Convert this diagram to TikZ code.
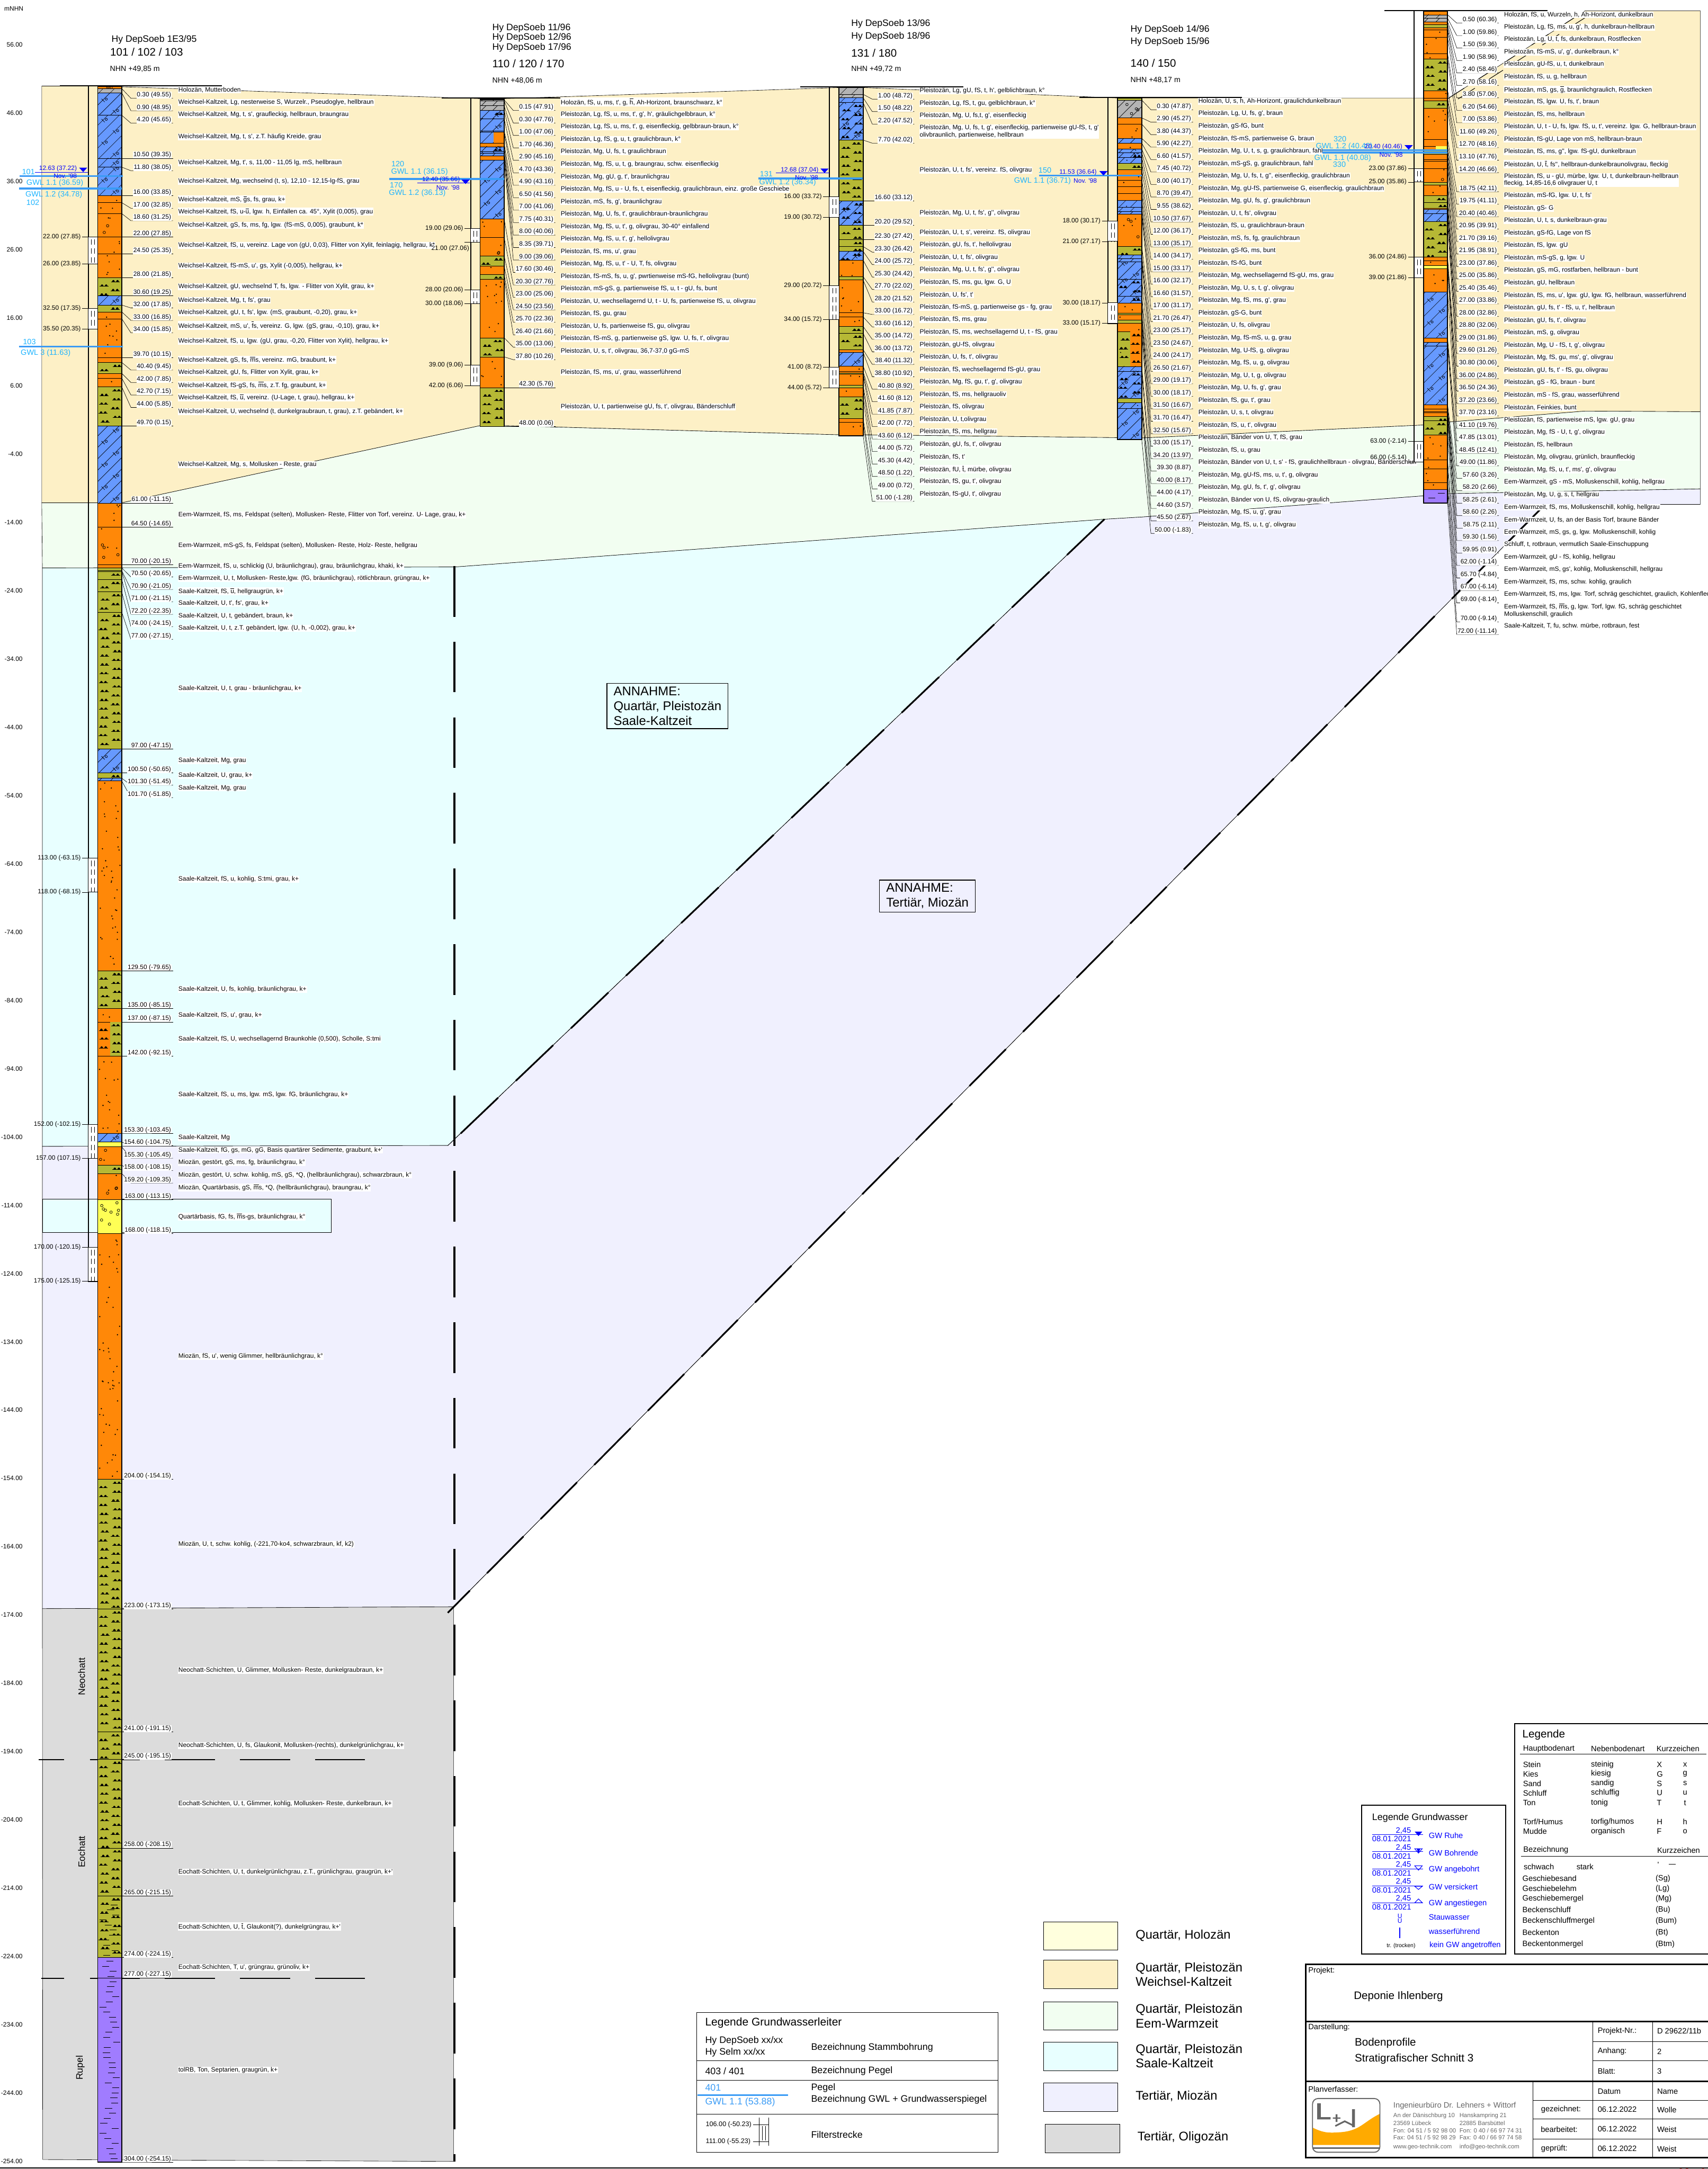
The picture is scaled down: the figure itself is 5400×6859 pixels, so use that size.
\documentclass[tikz,border=0pt]{standalone}
\usepackage{fontspec}
\newfontfamily\gfont{Liberation Sans}
\usetikzlibrary{positioning}
\definecolor{cOrange}{HTML}{FF8808}
\definecolor{cOlive}{HTML}{B6B835}
\definecolor{cBlue}{HTML}{6699FF}
\definecolor{cGrey}{HTML}{B4B4B4}
\definecolor{cYellow}{HTML}{FFFF55}
\definecolor{cPurple}{HTML}{A07CFF}
\definecolor{cHolo}{HTML}{FFFFDD}
\definecolor{cWeich}{HTML}{FDF0C6}
\definecolor{cEem}{HTML}{F2FEF1}
\definecolor{cSaale}{HTML}{E8FFFF}
\definecolor{cMio}{HTML}{F0F0FE}
\definecolor{cOligo}{HTML}{DCDCDC}
\definecolor{cGwl}{HTML}{1EB4FF}
\definecolor{cPegel}{HTML}{3A9BF5}
\definecolor{cLogo}{HTML}{FFAA00}
\definecolor{cLogoG}{HTML}{666666}
\newcommand{\fs}[2]{\gfont\fontsize{#1}{#2}\selectfont}
\newcommand{\ol}[1]{$\overline{\mbox{#1}}$}
\makeatletter
\newcommand{\testbreak}[1]{\in@{\\}{#1}\ifin@\gdef\extra{21}\else\gdef\extra{0}\fi}
\makeatother
\tikzstyle{thinl} = [line width=0.3pt, draw=black]
\tikzstyle{lead} = [line width=0.3pt, draw=black]
\tikzstyle{desc} = [anchor=west, fill=white, inner sep=0.4pt, align=left, font=\fs{5.7}{6.5}]
\tikzstyle{depth} = [anchor=base east, fill=white, inner sep=0.4pt, font=\fs{5.7}{6.5}]
\tikzstyle{plain} = [anchor=west, inner sep=0pt, align=left, font=\fs{5.7}{6.5}]
\tikzstyle{flab} = [anchor=east, inner sep=0pt, font=\fs{5.7}{6.5}]
\tikzstyle{gwl} = [anchor=west, inner sep=0pt, text=cGwl, font=\fs{6.9}{8}]
\tikzstyle{gwb} = [anchor=west, inner sep=0pt, text=blue, font=\fs{5.7}{6.5}]
\tikzstyle{head} = [anchor=west, inner sep=0pt, font=\fs{8.4}{9}]
\tikzstyle{headb} = [anchor=west, inner sep=0pt, font=\fs{9.8}{11}]
\tikzstyle{headc} = [anchor=west, inner sep=0pt, font=\fs{6.75}{8}]
\tikzstyle{leg} = [anchor=west, inner sep=0pt, font=\fs{7}{8}]
\tikzstyle{legb} = [anchor=west, inner sep=0pt, text=blue, font=\fs{7}{8}]
\tikzstyle{legg} = [anchor=west, inner sep=0pt, font=\fs{8.5}{10}]
\tikzstyle{legc} = [anchor=west, inner sep=0pt, align=left, font=\fs{11.3}{13}]
\tikzstyle{firm} = [anchor=west, inner sep=0pt, text=cLogoG, font=\fs{5.4}{6}]
\tikzstyle{big} = [anchor=west, inner sep=0pt, font=\fs{9.8}{11}]
\tikzstyle{assume} = [rectangle, draw=black, line width=0.6pt, anchor=north west, align=left, inner xsep=6pt, inner ysep=3pt, font=\fs{11.4}{13.4}]
\tikzstyle{bdash} = [line width=1.6pt, dash pattern=on 45.5pt off 22.5pt]
\tikzstyle{ddash} = [line width=1.5pt, dash pattern=on 46.5pt off 22pt]
\tikzstyle{peg} = [line width=1.7pt, draw=cPegel]

% one strip of a profile
\newcommand{\base}[4]{\filldraw[fill=#1,thinl] (#2,#3) rectangle (#2+76,#4);}
\newcommand{\spots}[6]{%
  \pgfmathtruncatemacro\nn{(#3-#2)/#4}%
  \ifnum\nn>0 \foreach \k in {1,...,\nn}{\fill ({#1+5+rnd*(#6-10)},{#2+3+rnd*(#3-#2-6)}) circle (#5);}\fi}
\newcommand{\rings}[5]{%
  \pgfmathtruncatemacro\nn{(#3-#2)/#4}%
  \ifnum\nn>0 \foreach \k in {1,...,\nn}{\draw[line width=0.35pt] ({#1+9+rnd*(#5-18)},{#2+6+rnd*(#3-#2-12)}) circle (4);}\fi}
\newcommand{\bump}[2]{\fill (#1,#2) .. controls (#1+1,#2-8) and (#1+8,#2-8) .. (#1+9,#2) -- cycle;}
\newcommand{\humps}[4]{%
  \pgfmathtruncatemacro\nn{(#3-#2)/14}%
  \ifnum\nn>0 \foreach \k in {1,...,\nn}{%
    \pgfmathsetmacro\hy{#2+\k*14-1}%
    \pgfmathsetmacro\hx{#1+3+mod(\k,2)*#4/2+rnd*(#4/2-31)}%
    \draw[line width=0.3pt] (\hx,\hy) -- ++(28,0);
    \bump{\hx+3}{\hy}\bump{\hx+16}{\hy}}\fi}
\newcommand{\clays}[3]{%
  \pgfmathtruncatemacro\nn{(#3-#2)/16}%
  \ifnum\nn>0 \foreach \k in {1,...,\nn}{\draw[line width=0.3pt] ({#1+5+rnd*44},{#2+\k*16-4}) -- ++(22,0);}\fi}
\newcommand{\hatch}[4]{%
  \begin{scope}
    \clip (#1,#2) rectangle (#1+76,#3);
    \pgfmathtruncatemacro\nn{(#3-#2+76)/36}%
    \foreach \k in {0,...,\nn}{%
      \pgfmathsetmacro\yk{#3+76-\k*36}%
      \draw[line width=0.3pt] (#1,\yk) -- ++(76,-76);
      \ifnum#4=1 \ifodd\k
        \draw[line width=0.35pt] (#1+12,\yk-20) -- (#1+22,\yk-10) (#1+27,\yk-19) circle (3.5);
        \draw[line width=0.35pt] (#1+48,\yk-56) -- (#1+58,\yk-46) (#1+63,\yk-55) circle (3.5);
      \fi\fi}
  \end{scope}}
\newcommand{\layo}[3]{\base{cOrange}{#1}{#2}{#3}}
\newcommand{\lays}[3]{\base{cOrange}{#1}{#2}{#3}\spots{#1}{#2}{#3}{15}{2.2}{76}}
\newcommand{\layg}[3]{\base{cOrange}{#1}{#2}{#3}\spots{#1}{#2}{#3}{30}{2.2}{76}\rings{#1}{#2}{#3}{26}{76}}
\newcommand{\layu}[3]{\base{cOlive}{#1}{#2}{#3}\humps{#1}{#2}{#3}{76}}
\newcommand{\layv}[3]{\base{cOlive}{#1}{#2}{#3}\humps{#1}{#2}{#3}{76}\clays{#1}{#2}{#3}}
\newcommand{\laym}[3]{\base{cBlue}{#1}{#2}{#3}\hatch{#1}{#2}{#3}{1}}
\newcommand{\layn}[3]{\base{cBlue}{#1}{#2}{#3}\hatch{#1}{#2}{#3}{1}\humps{#1}{#2}{#3}{76}}
\newcommand{\layl}[3]{\base{cBlue}{#1}{#2}{#3}\hatch{#1}{#2}{#3}{0}\spots{#1}{#2}{#3}{16}{1.8}{76}}
\newcommand{\layh}[3]{\base{cGrey}{#1}{#2}{#3}\hatch{#1}{#2}{#3}{0}}
\newcommand{\layx}[3]{\base{cGrey}{#1}{#2}{#3}\hatch{#1}{#2}{#3}{0}\rings{#1}{#2}{#3}{12}{76}}
\newcommand{\layy}[3]{\base{cYellow}{#1}{#2}{#3}\rings{#1}{#2}{#3}{11}{76}}
\newcommand{\layf}[3]{\base{cYellow}{#1}{#2}{#3}}
\newcommand{\layt}[3]{\base{cPurple}{#1}{#2}{#3}\clays{#1}{#2}{#3}}
\newcommand{\laya}[3]{\base{cOlive}{#1}{#2}{#3}\fill[cOrange] (#1+40,#2) rectangle (#1+76,#3);\humps{#1}{#2}{#3}{76}\spots{#1}{#2}{#3}{50}{1.8}{76}}
\newcommand{\layb}[3]{\base{cOrange}{#1}{#2}{#3}\fill[cOlive] (#1+40,#2) rectangle (#1+76,#3);\humps{#1}{#2}{#3}{76}}
\newcommand{\layq}[3]{\base{cBlue}{#1}{#2}{#3}\hatch{#1}{#2}{#3}{0}\fill[cOrange] (#1+42,#2) rectangle (#1+76,#3);}
\newcommand{\layr}[3]{\base{cOrange}{#1}{#2}{#3}\fill[cYellow] (#1+38,#2) rectangle (#1+76,#3);}

% name, left edge, NHN of the top, strata
\newcommand{\profile}[4]{%
  \pgfmathsetmacro\xL{#2}\pgfmathsetmacro\xR{#2+76}%
  \pgfmathsetmacro\xK{#2+105}\pgfmathsetmacro\xE{#2+238}%
  \pgfmathsetmacro\xT{#2+234}\pgfmathsetmacro\xD{#2+253}%
  \pgfmathsetmacro\ytop{141+(56-#3)*21.59}%
  \xdef\dprev{0}\xdef\extraprev{0}%
  \pgfmathsetmacro\tmp{\ytop-2.4}\xdef\ylabprev{\tmp}%
  \pgfmathsetmacro\tmp{\ytop-29}\xdef\ytxtprev{\tmp}%
  \foreach \dep/\elev/\pat/\txt [count=\i] in {#4}{%
    \expandafter\testbreak\expandafter{\txt}%
    \pgfmathsetmacro\ybot{\ytop+\dep*21.59}%
    \pgfmathsetmacro\yfirst{\ytop+\dprev*21.59}%
    \csname lay\pat\endcsname{\xL}{\yfirst}{\ybot}%
    \pgfmathsetmacro\ylab{max(\ybot,\ylabprev+39.4+\extra)}%
    \pgfmathsetmacro\ytxt{max((\yfirst+\ybot)/2,\ytxtprev+39.4+(\extra+\extraprev)/2,(\ytxtprev+\ybot)/2)}%
    \coordinate (#1b\i) at (\xR,\ybot);
    \coordinate (#1k\i) at (\xK,\ylab);
    \coordinate (#1e\i) at (\xE,\ylab);
    \draw[lead] (#1b\i) -- (#1k\i) -- (#1e\i);
    \node (#1d\i) [depth] at (\xT,\ylab-5) {\dep{} (\elev)};
    \node (#1t\i) [desc] at (\xD,\ytxt) {\txt};
    \xdef\dprev{\dep}\xdef\ylabprev{\ylab}\xdef\ytxtprev{\ytxt}\xdef\extraprev{\extra}%
  }%
  \draw[line width=0.9pt] (\xL,\ytop) rectangle (\xR,{\ytop+\dprev*21.59});
}
% name, tube left edge, tube width, NHN of the top, end of tube, filters
\newcommand{\pegel}[6]{%
  \pgfmathsetmacro\ytop{141+(56-#4)*21.59}%
  \draw[line width=0.9pt] (#2,\ytop-4) -- (#2,{\ytop+#5*21.59}) -- (#2+#3,{\ytop+#5*21.59});
  \foreach \da/\ea/\db/\eb/\nudgex/\nudgey [count=\i] in {#6}{%
    \pgfmathsetmacro\ya{\ytop+\da*21.59}\pgfmathsetmacro\yb{\ytop+\db*21.59}%
    \filldraw[fill=white,line width=0.5pt] (#2,\ya) rectangle (#2+#3,\yb);
    \draw[line width=0.4pt,dash pattern=on 5pt off 3pt] (#2+#3/3,\ya+8) -- (#2+#3/3,\yb) (#2+2*#3/3,\ya+8) -- (#2+2*#3/3,\yb);
    \draw[lead] (#2-19,\ya) -- (#2,\ya) (#2-19,\yb) -- (#2,\yb);
    \node (#1fa\i) [flab] at (#2-23,\ya) {\da{} (\ea)};
    \node (#1fb\i) [flab] at (#2-23+\nudgex,\yb+\nudgey) {\db{} (\eb)};
  }%
}
\newcommand{\gwtri}[2]{\fill[blue] (#1-13,#2-7) -- (#1+13,#2-7) -- (#1,#2+7) -- cycle;}

\begin{document}
\begin{tikzpicture}[x=0.01cm,y=-0.01cm]
\useasboundingbox (0,0) rectangle (5400,6859);
\pgfmathsetseed{41}

% formations
\filldraw[fill=cWeich,thinl] (132,272) -- (309,272) -- (1518,312) -- (1594,312) -- (2653,277) -- (2728,277) -- (3534,310) -- (4501,310) -- (4576,313) -- (5012,34) -- (5376,34) -- (5376,1302) -- (5012,1300) -- (4576,1335) -- (4501,1344) -- (3610,1385) -- (3534,1384) -- (2728,1375) -- (2653,1375) -- (1594,1346) -- (1518,1346) -- (385,1590) -- (132,1590) -- cycle;
\filldraw[fill=cEem,thinl] (132,1590) -- (385,1590) -- (1518,1346) -- (1594,1346) -- (2653,1375) -- (2728,1375) -- (3534,1384) -- (3610,1385) -- (4501,1344) -- (4576,1335) -- (5012,1300) -- (5376,1302) -- (5376,1546) -- (4576,1561) -- (4501,1568) -- (3610,1635) -- (3492,1642) -- (1438,1793) -- (134,1796) -- cycle;
\filldraw[fill=cMio,thinl] (134,3625) -- (1416,3622) -- (3492,1642) -- (3610,1635) -- (4501,1568) -- (4576,1561) -- (5376,1546) -- (5376,1595) -- (4875,1595) -- (4875,1606) -- (1434,5081) -- (134,5087) -- cycle;
\filldraw[fill=cSaale,thinl] (134,1796) -- (1438,1793) -- (3492,1642) -- (1416,3622) -- (134,3625) -- cycle;
\filldraw[fill=cSaale,thinl] (134,3792) rectangle (1047,3898);
\filldraw[fill=cOligo,thinl] (134,5087) -- (1434,5081) -- (1434,6835) -- (135,6829) -- cycle;

\draw[bdash] (1437,1790) -- (1437,6835);
\draw[ddash] (3492,1642) -- (1416,3623);
\draw[ddash] (4875,1606) -- (1416,5100);
\draw[line width=0.25pt] (4875,1606) -- (1416,5100) (3492,1642) -- (1416,3623);
\draw[line width=0.5pt,dash pattern=on 18pt off 12pt] (4576,313) -- (5012,34) (4610,313) -- (5046,34);
\draw[line width=0.8pt] (122,5564) -- (203,5564);
\draw[line width=0.8pt,dash pattern=on 45pt off 22.5pt] (284,5564) -- (1155,5564);
\draw[line width=0.8pt] (130,6256) -- (203,6256);
\draw[line width=0.8pt,dash pattern=on 45pt off 22.5pt] (284,6256) -- (1155,6256);

\draw[line width=0.9pt] (189,271) -- (702,271) (1396,310) -- (1912,310) (2530,274) -- (3046,274) (3412,308) -- (3926,308) (4378,34) -- (4893,34);

% scale
\node (axis) [plain] at (13,27) {mNHN};
\foreach \h [count=\i] in {56,46,...,-254}{
  \pgfmathsetmacro\yh{141+(56-\h)*21.59}
  \node (ax\i) [flab] at (72,\yh) {\h.00};
}

% heads
\node (h1a) [head] at (352,125) {Hy DepSoeb 1E3/95};
\node (h1b) [headb] at (348,165) {101 / 102 / 103};
\node (h1c) [headc] at (347,218) {NHN +49,85 m};
\node (h2a) [head] at (1556,88) {Hy DepSoeb 11/96};
\node (h2b) [head] at (1556,118) {Hy DepSoeb 12/96};
\node (h2c) [head] at (1556,151) {Hy DepSoeb 17/96};
\node (h2d) [headb] at (1556,202) {110 / 120 / 170};
\node (h2e) [headc] at (1556,256) {NHN +48,06 m};
\node (h3a) [head] at (2691,75) {Hy DepSoeb 13/96};
\node (h3b) [head] at (2691,115) {Hy DepSoeb 18/96};
\node (h3c) [headb] at (2691,167) {131 / 180};
\node (h3d) [headc] at (2691,219) {NHN +49,72 m};
\node (h4a) [head] at (3574,94) {Hy DepSoeb 14/96};
\node (h4b) [head] at (3574,133) {Hy DepSoeb 15/96};
\node (h4c) [headb] at (3574,199) {140 / 150};
\node (h4d) [headc] at (3574,254) {NHN +48,17 m};

% profiles
\profile{a}{309}{49.85}{
0.30/49.55/o/{Holozän, Mutterboden},
0.90/48.95/h/{Weichsel-Kaltzeit, Lg, nesterweise S, Wurzelr., Pseudoglye, hellbraun},
4.20/45.65/m/{Weichsel-Kaltzeit, Mg, t, s', graufleckig, hellbraun, braungrau},
10.50/39.35/m/{Weichsel-Kaltzeit, Mg, t, s', z.T. häufig Kreide, grau},
11.80/38.05/m/{Weichsel-Kaltzeit, Mg, t', s, 11,00 - 11,05 lg, mS, hellbraun},
16.00/33.85/m/{Weichsel-Kaltzeit, Mg, wechselnd (t, s), 12,10 - 12,15-lg-fS, grau},
17.00/32.85/s/{Weichsel-Kaltzeit, mS, \ol{g}s, fs, grau, k+},
18.60/31.25/s/{Weichsel-Kaltzeit, fS, u-\ol{u}, lgw. h, Einfallen ca. 45°, Xylit (0,005), grau},
22.00/27.85/g/{Weichsel-Kaltzeit, gS, fs, ms, fg, lgw. (fS-mS, 0,005), graubunt, k*},
24.50/25.35/s/{Weichsel-Kaltzeit, fS, u, vereinz. Lage von (gU, 0,03), Flitter von Xylit, feinlagig, hellgrau, k*},
28.00/21.85/s/{Weichsel-Kaltzeit, fS-mS, u', gs, Xylit (-0,005), hellgrau, k+},
30.60/19.25/u/{Weichsel-Kaltzeit, gU, wechselnd T, fs, lgw. - Flitter von Xylit, grau, k+},
32.00/17.85/m/{Weichsel-Kaltzeit, Mg, t, fs', grau},
33.00/16.85/u/{Weichsel-Kaltzeit, gU, t, fs', lgw. (mS, graubunt, -0,20), grau, k+},
34.00/15.85/s/{Weichsel-Kaltzeit, mS, u', \ol{f}s, vereinz. G, lgw. (gS, grau, -0,10), grau, k+},
39.70/10.15/s/{Weichsel-Kaltzeit, fS, u, lgw. (gU, grau, -0,20, Flitter von Xylit), hellgrau, k+},
40.40/9.45/g/{Weichsel-Kaltzeit, gS, fs, \ol{m}s, vereinz. mG, braubunt, k+},
42.00/7.85/u/{Weichsel-Kaltzeit, gU, fs, Flitter von Xylit, grau, k+},
42.70/7.15/g/{Weichsel-Kaltzeit, fS-gS, fs, \ol{m}s, z.T. fg, graubunt, k+},
44.00/5.85/s/{Weichsel-Kaltzeit, fS, \ol{u}, vereinz. (U-Lage, t, grau), hellgrau, k+},
49.70/0.15/u/{Weichsel-Kaltzeit, U, wechselnd (t, dunkelgraubraun, t, grau), z.T. gebändert, k+},
61.00/-11.15/m/{Weichsel-Kaltzeit, Mg, s, Mollusken - Reste, grau},
64.50/-14.65/s/{Eem-Warmzeit, fS, ms, Feldspat (selten), Mollusken- Reste, Flitter von Torf, vereinz. U- Lage, grau, k+},
70.00/-20.15/g/{Eem-Warmzeit, mS-gS, fs, Feldspat (selten), Mollusken- Reste, Holz- Reste, hellgrau},
70.50/-20.65/s/{Eem-Warmzeit, fS, u, schlickig (U, bräunlichgrau), grau, bräunlichgrau, khaki, k+},
70.90/-21.05/u/{Eem-Warmzeit, U, t, Mollusken- Reste,lgw. (fG, bräunlichgrau), rötlichbraun, grüngrau, k+},
71.00/-21.15/u/{Saale-Kaltzeit, fS, \ol{u}, hellgraugrün, k+},
72.20/-22.35/u/{Saale-Kaltzeit, U, t', fs', grau, k+},
74.00/-24.15/u/{Saale-Kaltzeit, U, t, gebändert, braun, k+},
77.00/-27.15/u/{Saale-Kaltzeit, U, t, z.T. gebändert, lgw. (U, h, -0,002), grau, k+},
97.00/-47.15/u/{Saale-Kaltzeit, U, t, grau - bräunlichgrau, k+},
100.50/-50.65/m/{Saale-Kaltzeit, Mg, grau},
101.30/-51.45/u/{Saale-Kaltzeit, U, grau, k+},
101.70/-51.85/l/{Saale-Kaltzeit, Mg, grau},
129.50/-79.65/s/{Saale-Kaltzeit, fS, u, kohlig, S:tmi, grau, k+},
135.00/-85.15/u/{Saale-Kaltzeit, U, fs, kohlig, bräunlichgrau, k+},
137.00/-87.15/s/{Saale-Kaltzeit, fS, u', grau, k+},
142.00/-92.15/b/{Saale-Kaltzeit, fS, U, wechsellagernd Braunkohle (0,500), Scholle, S:tmi},
153.30/-103.45/s/{Saale-Kaltzeit, fS, u, ms, lgw. mS, lgw. fG, bräunlichgrau, k+},
154.60/-104.75/m/{Saale-Kaltzeit, Mg},
155.30/-105.45/f/{Saale-Kaltzeit, fG, gs, mG, gG, Basis quartärer Sedimente, graubunt, k+'},
158.00/-108.15/g/{Miozän, gestört, gS, ms, fg, bräunlichgrau, k°},
159.20/-109.35/u/{Miozän, gestört, U, schw. kohlig, mS, gS, *Q, (hellbräunlichgrau), schwarzbraun, k°},
163.00/-113.15/g/{Miozän, Quartärbasis, gS, \ol{m}s, *Q, (hellbräunlichgrau), braungrau, k°},
168.00/-118.15/y/{Quartärbasis, fG, fs, \ol{m}s-gs, bräunlichgrau, k°},
204.00/-154.15/s/{Miozän, fS, u', wenig Glimmer, hellbräunlichgrau, k°},
223.00/-173.15/u/{Miozän, U, t, schw. kohlig, (-221,70-ko4, schwarzbraun, kf, k2)},
241.00/-191.15/u/{Neochatt-Schichten, U, Glimmer, Mollusken- Reste, dunkelgraubraun, k+},
245.00/-195.15/u/{Neochatt-Schichten, U, fs, Glaukonit, Mollusken-(rechts), dunkelgrünlichgrau, k+},
258.00/-208.15/u/{Eochatt-Schichten, U, t, Glimmer, kohlig, Mollusken- Reste, dunkelbraun, k+},
265.00/-215.15/u/{Eochatt-Schichten, U, t, dunkelgrünlichgrau, z.T., grünlichgrau, graugrün, k+'},
274.00/-224.15/v/{Eochatt-Schichten, U, \ol{t}, Glaukonit(?), dunkelgrüngrau, k+'},
277.00/-227.15/t/{Eochatt-Schichten, T, u', grüngrau, grünoliv, k+},
304.00/-254.15/t/{tolRB, Ton, Septarien, graugrün, k+}}

\profile{b}{1518}{48.06}{
0.15/47.91/h/{Holozän, fS, u, ms, t', g, \ol{h}, Ah-Horizont, braunschwarz, k°},
0.30/47.76/h/{Pleistozän, Lg, fS, u, ms, t', g', h', gräulichgelbbraun, k°},
1.00/47.06/h/{Pleistozän, Lg, fS, u, ms, t', g, eisenfleckig, gelbbraun-braun, k°},
1.70/46.36/h/{Pleistozän, Lg, fS, g, u, t, graulichbraun, k°},
2.90/45.16/n/{Pleistozän, Mg, U, fs, t, graulichbraun},
4.70/43.36/m/{Pleistozän, Mg, fS, u, t, g, braungrau, schw. eisenfleckig},
4.90/43.16/l/{Pleistozän, Mg, gU, g, t', braunlichgrau},
6.50/41.56/q/{Pleistozän, Mg, fS, u - U, fs, t, eisenfleckig, graulichbraun, einz. große Geschiebe},
7.00/41.06/s/{Pleistozän, mS, fs, g', braunlichgrau},
7.75/40.31/n/{Pleistozän, Mg, U, fs, t', graulichbraun-braunlichgrau},
8.00/40.06/l/{Pleistozän, Mg, fS, u, t', g, olivgrau, 30-40° einfallend},
8.35/39.71/l/{Pleistozän, Mg, fS, u, t', g', hellolivgrau},
9.00/39.06/s/{Pleistozän, fS, ms, u', grau},
17.60/30.46/m/{Pleistozän, Mg, fS, u, t' - U, T, fs, olivgrau},
20.30/27.76/s/{Pleistozän, fS-mS, fs, u, g', pwrtienweise mS-fG, hellolivgrau (bunt)},
23.00/25.06/g/{Pleistozän, mS-gS, g, partienweise fS, u, t - gU, fs, bunt},
24.50/23.56/u/{Pleistozän, U, wechsellagernd U, t - U, fs, partienweise fS, u, olivgrau},
25.70/22.36/s/{Pleistozän, fS, gu, grau},
26.40/21.66/u/{Pleistozän, U, fs, partienweise fS, gu, olivgrau},
35.00/13.06/s/{Pleistozän, fS-mS, g, partienweise gS, lgw. U, fs, t', olivgrau},
37.80/10.26/u/{Pleistozän, U, s, t', olivgrau, 36,7-37,0 gG-mS},
42.30/5.76/s/{Pleistozän, fS, ms, u', grau, wasserführend},
48.00/0.06/u/{Pleistozän, U, t, partienweise gU, fs, t', olivgrau, Bänderschluff}}

\profile{c}{2653}{49.72}{
1.00/48.72/h/{Pleistozän, Lg, gU, fS, t, h', gelblichbraun, k°},
1.50/48.22/h/{Pleistozän, Lg, fS, t, gu, gelblichbraun, k°},
2.20/47.52/l/{Pleistozän, Mg, U, fs,t, g', eisenfleckig},
7.70/42.02/n/{Pleistozän, Mg, U, fs, t, g', eisenfleckig, partienweise gU-fS, t, g'\\olivbraunlich, partienweise, hellbraun},
16.60/33.12/u/{Pleistozän, U, t, fs', vereinz. fS, olivgrau},
20.20/29.52/n/{Pleistozän, Mg, U, t, fs', g'', olivgrau},
22.30/27.42/u/{Pleistozän, U, t, s', vereinz. fS, olivgrau},
23.30/26.42/u/{Pleistozän, gU, fs, t', hellolivgrau},
24.00/25.72/u/{Pleistozän, U, t, fs', olivgrau},
25.30/24.42/n/{Pleistozän, Mg, U, t, fs', g'', olivgrau},
27.70/22.02/s/{Pleistozän, fS, ms, gu, lgw. G, U},
28.20/21.52/u/{Pleistozän, U, fs', t'},
33.00/16.72/s/{Pleistozän, fS-mS, g, partienweise gs - fg, grau},
33.60/16.12/s/{Pleistozän, fS, ms, grau},
35.00/14.72/s/{Pleistozän, fS, ms, wechsellagernd U, t - fS, grau},
36.00/13.72/u/{Pleistozän, gU-fS, olivgrau},
38.40/11.32/u/{Pleistozän, U, fs, t', olivgrau},
38.80/10.92/s/{Pleistozän, fS, wechsellagernd fS-gU, grau},
40.80/8.92/m/{Pleistozän, Mg, fS, gu, t', g', olivgrau},
41.60/8.12/s/{Pleistozän, fS, ms, hellgrauoliv},
41.85/7.87/s/{Pleistozän, fS, olivgrau},
42.00/7.72/u/{Pleistozän, U, t,olivgrau},
43.60/6.12/s/{Pleistozän, fS, ms, hellgrau},
44.00/5.72/u/{Pleistozän, gU, fs, t', olivgrau},
45.30/4.42/s/{Pleistozän, fS, t'},
48.50/1.22/u/{Pleistozän, fU, \ol{t}, mürbe, olivgrau},
49.00/0.72/s/{Pleistozän, fS, gu, t', olivgrau},
51.00/-1.28/s/{Pleistozän, fS-gU, t', olivgrau}}

\profile{d}{3534}{48.17}{
0.30/47.87/u/{Holozän, U, s, h, Ah-Horizont, graulichdunkelbraun},
2.90/45.27/x/{Pleistozän, Lg, U, fs, g', braun},
3.80/44.37/g/{Pleistozän, gS-fG, bunt},
5.90/42.27/s/{Pleistozän, fS-mS, partienweise G, braun},
6.60/41.57/l/{Pleistozän, Mg, U, t, s, g, graulichbraun, fahl},
7.45/40.72/s/{Pleistozän, mS-gS, g, graulichbraun, fahl},
8.00/40.17/n/{Pleistozän, Mg, U, fs, t, g'', eisenfleckig, graulichbraun},
8.70/39.47/n/{Pleistozän, Mg, gU-fS, partienweise G, eisenfleckig, graulichbraun},
9.55/38.62/l/{Pleistozän, Mg, gU, fs, g', graulichbraun},
10.50/37.67/u/{Pleistozän, U, t, fs', olivgrau},
12.00/36.17/s/{Pleistozän, fS, u, graulichbraun-braun},
13.00/35.17/s/{Pleistozän, mS, fs, fg, graulichbraun},
14.00/34.17/g/{Pleistozän, gS-fG, ms, bunt},
15.00/33.17/g/{Pleistozän, fS-fG, bunt},
16.00/32.17/l/{Pleistozän, Mg, wechsellagernd fS-gU, ms, grau},
16.60/31.57/l/{Pleistozän, Mg, U, s, t, g', olivgrau},
17.00/31.17/l/{Pleistozän, Mg, fS, ms, g', grau},
21.70/26.47/g/{Pleistozän, gS-G, bunt},
23.00/25.17/u/{Pleistozän, U, fs, olivgrau},
23.50/24.67/l/{Pleistozän, Mg, fS-mS, u, g, grau},
24.00/24.17/l/{Pleistozän, Mg, U-fS, g, olivgrau},
26.50/21.67/m/{Pleistozän, Mg, fS, u, g, olivgrau},
29.00/19.17/n/{Pleistozän, Mg, U, t, g, olivgrau},
30.00/18.17/n/{Pleistozän, Mg, U, fs, g', grau},
31.50/16.67/s/{Pleistozän, fS, gu, t', grau},
31.70/16.47/u/{Pleistozän, U, s, t, olivgrau},
32.50/15.67/s/{Pleistozän, fS, u, t', olivgrau},
33.00/15.17/u/{Pleistozän, Bänder von U, T, fS, grau},
34.20/13.97/s/{Pleistozän, fS, u, grau},
39.30/8.87/a/{Pleistozän, Bänder von U, t, s' - fS, graulichhellbraun - olivgrau, Bänderschluff},
40.00/8.17/l/{Pleistozän, Mg, gU-fS, ms, u, t', g, olivgrau},
44.00/4.17/n/{Pleistozän, Mg, gU, fs, t', g', olivgrau},
44.60/3.57/u/{Pleistozän, Bänder von U, fS, olivgrau-graulich},
45.50/2.67/l/{Pleistozän, Mg, fS, u, g', grau},
50.00/-1.83/m/{Pleistozän, Mg, fS, u, t, g', olivgrau}}

\profile{e}{4501}{60.86}{
0.50/60.36/s/{Holozän, fS, u, Wurzeln, h, Ah-Horizont, dunkelbraun},
1.00/59.86/h/{Pleistozän, Lg, fS, ms, u, g', h, dunkelbraun-hellbraun},
1.50/59.36/h/{Pleistozän, Lg, U, t, fs, dunkelbraun, Rostflecken},
1.90/58.96/s/{Pleistozän, fS-mS, u', g', dunkelbraun, k°},
2.40/58.46/u/{Pleistozän, gU-fS, u, t, dunkelbraun},
2.70/58.16/s/{Pleistozän, fS, u, g, hellbraun},
3.80/57.06/s/{Pleistozän, mS, gs, \ol{g}, braunlichgraulich, Rostflecken},
6.20/54.66/s/{Pleistozän, fS, lgw. U, fs, t', braun},
7.00/53.86/s/{Pleistozän, fS, ms, hellbraun},
11.60/49.26/u/{Pleistozän, U, t - U, fs, lgw. fS, u, t', vereinz. lgw. G, hellbraun-braun},
12.70/48.16/s/{Pleistozän, fS-gU, Lage von mS, hellbraun-braun},
13.10/47.76/s/{Pleistozän, fS, ms, g'', lgw. fS-gU, dunkelbraun},
14.20/46.66/u/{Pleistozän, U, \ol{t}, fs'', hellbraun-dunkelbraunolivgrau, fleckig},
18.75/42.11/s/{Pleistozän, fS, u - gU, mürbe, lgw. U, t, dunkelbraun-hellbraun\\fleckig, 14,85-16,6 olivgrauer U, t},
19.75/41.11/g/{Pleistozän, mS-fG, lgw. U, t, fs'},
20.40/40.46/r/{Pleistozän, gS- G},
20.95/39.91/u/{Pleistozän, U, t, s, dunkelbraun-grau},
21.70/39.16/g/{Pleistozän, gS-fG, Lage von fS},
21.95/38.91/s/{Pleistozän, fS, lgw. gU},
23.00/37.86/g/{Pleistozän, mS-gS, g, lgw. U},
25.00/35.86/g/{Pleistozän, gS, mG, rostfarben, hellbraun - bunt},
25.40/35.46/u/{Pleistozän, gU, hellbraun},
27.00/33.86/s/{Pleistozän, fS, ms, u', lgw. gU, lgw. fG, hellbraun, wasserführend},
28.00/32.86/u/{Pleistozän, gU, fs, t' - fS, u, t', hellbraun},
28.80/32.06/u/{Pleistozän, gU, fs, t', olivgrau},
29.00/31.86/s/{Pleistozän, mS, g, olivgrau},
29.60/31.26/l/{Pleistozän, Mg, U - fS, t, g', olivgrau},
30.80/30.06/l/{Pleistozän, Mg, fS, gu, ms', g', olivgrau},
36.00/24.86/u/{Pleistozän, gU, fs, t' - fS, gu, olivgrau},
36.50/24.36/g/{Pleistozän, gS - fG, braun - bunt},
37.20/23.66/s/{Pleistozän, mS - fS, grau, wasserführend},
37.70/23.16/f/{Pleistozän, Feinkies, bunt},
41.10/19.76/s/{Pleistozän, fS, partienweise mS, lgw. gU, grau},
47.85/13.01/m/{Pleistozän, Mg, fS - U, t, g', olivgrau},
48.45/12.41/s/{Pleistozän, fS, hellbraun},
49.00/11.86/l/{Pleistozän, Mg, olivgrau, grünlich, braunfleckig},
57.60/3.26/m/{Pleistozän, Mg, fS, u, t', ms', g', olivgrau},
58.20/2.66/s/{Eem-Warmzeit, gS - mS, Molluskenschill, kohlig, hellgrau},
58.25/2.61/o/{Pleistozän, Mg, U, g, s, t, hellgrau},
58.60/2.26/o/{Eem-Warmzeit, fS, ms, Molluskenschill, kohlig, hellgrau},
58.75/2.11/o/{Eem-Warmzeit, U, fs, an der Basis Torf, braune Bänder},
59.30/1.56/s/{Eem-Warmzeit, mS, gs, g, lgw. Molluskenschill, kohlig},
59.95/0.91/u/{Schluff, t, rotbraun, vermutlich Saale-Einschuppung},
62.00/-1.14/u/{Eem-Warmzeit, gU - fS, kohlig, hellgrau},
65.70/-4.84/s/{Eem-Warmzeit, mS, gs', kohlig, Molluskenschill, hellgrau},
67.00/-6.14/s/{Eem-Warmzeit, fS, ms, schw. kohlig, graulich},
69.00/-8.14/s/{Eem-Warmzeit, fS, ms, lgw. Torf, schräg geschichtet, graulich, Kohlenflecken},
70.00/-9.14/s/{Eem-Warmzeit, fS, \ol{m}s, g, lgw. Torf, lgw. fG, schräg geschichtet\\Molluskenschill, graulich},
72.00/-11.14/t/{Saale-Kaltzeit, T, fu, schw. mürbe, rotbraun, fest}}

\node (mu) [anchor=center,inner sep=0pt,font=\fs{4.5}{5}] at (346,276) {Mu};

% tubes
\pegel{pa}{279}{30}{49.85}{175.00}{22.00/27.85/26.00/23.85/0/0,32.50/17.35/35.50/20.35/0/0,113.00/-63.15/118.00/-68.15/0/0,152.00/-102.15/157.00/107.15/0/0,170.00/-120.15/175.00/-125.15/0/0}
\pegel{pb}{1488}{30}{48.06}{42.00}{19.00/29.06/21.00/27.06/19/20,28.00/20.06/30.00/18.06/0/0,39.00/9.06/42.00/6.06/0/0}
\pegel{pc}{2622}{31}{49.72}{44.00}{16.00/33.72/19.00/30.72/0/0,29.00/20.72/34.00/15.72/0/0,41.00/8.72/44.00/5.72/0/0}
\pegel{pd}{3503}{31}{48.17}{33.00}{18.00/30.17/21.00/27.17/0/0,30.00/18.17/33.00/15.17/0/0}
\pegel{pe}{4471}{30}{60.86}{66.00}{23.00/37.86/25.00/35.86/0/0,36.00/24.86/39.00/21.86/0/0,63.00/-2.14/66.00/-5.14/0/-14}

% groundwater
\draw[peg] (62,557) -- (388,557) (61,596) -- (385,596) (60,1096) -- (388,1096);
\draw[peg] (1230,566) -- (1594,566) (2398,564) -- (2728,564) (3285,555) -- (3611,555) (4181,475) -- (4576,475) (4181,482) -- (4576,482);
\node (g101) [gwl] at (69,543) {101};
\node (g11a) [gwl] at (83,579) {GWL 1.1 (36.59)};
\node (g12a) [gwl] at (80,616) {GWL 1.2 (34.78)};
\node (g102) [gwl] at (83,640) {102};
\node (g103) [gwl] at (72,1081) {103};
\node (g3a) [gwl] at (65,1116) {GWL 3 (11.63)};
\node (g120) [gwl] at (1237,518) {120};
\node (g11b) [gwl] at (1236,544) {GWL 1.1 (36.15)};
\node (g170) [gwl] at (1232,585) {170};
\node (g12b) [gwl] at (1229,611) {GWL 1.2 (36.13)};
\node (g131) [gwl] at (2402,550) {131};
\node (g12c) [gwl] at (2400,578) {GWL 1.2 (36.34)};
\node (g150) [gwl] at (3283,538) {150};
\node (g11d) [gwl] at (3206,572) {GWL 1.1 (36.71)};
\node (g320) [gwl] at (4216,439) {320};
\node (g12e) [gwl] at (4160,464) {GWL 1.2 (40.40)};
\node (g11e) [gwl] at (4155,500) {GWL 1.1 (40.08)};
\node (g330) [gwl] at (4214,520) {330};

\draw[blue,line width=0.3pt] (110,544) -- (278,544) (1319,579) -- (1485,579) (2453,547) -- (2622,547);
\gwtri{263}{537}\gwtri{1472}{575}\gwtri{2607}{540}\gwtri{3489}{548}\gwtri{4454}{466}
\node (b1a) [gwb] at (123,533) {12.63 (37.22)};
\node (b1b) [gwb] at (169,557) {Nov. '98};
\node (b2a) [gwb] at (1334,568) {12.40 (35.66)};
\node (b2b) [gwb] at (1379,593) {Nov. '98};
\node (b3a) [gwb] at (2468,538) {12.68 (37.04)};
\node (b3b) [gwb] at (2513,562) {Nov. '98};
\node (b4a) [gwb] at (3349,545) {11.53 (36.64)};
\node (b4b) [gwb] at (3394,571) {Nov. '98};
\node (b5a) [gwb] at (4314,464) {20.40 (40.46)};
\node (b5b) [gwb] at (4361,489) {Nov. '98};

% stages
\node (neo) [inner sep=0pt,rotate=90,font=\fs{8.4}{9}] at (258,5302) {Neochatt};
\node (eoc) [inner sep=0pt,rotate=90,font=\fs{8.4}{9}] at (258,5856) {Eochatt};
\node (rup) [inner sep=0pt,rotate=90,font=\fs{8.4}{9}] at (254,6539) {Rupel};

\node (annQ) [assume] at (1918,2160) {ANNAHME:\\Quartär, Pleistozän\\Saale-Kaltzeit};
\node (annT) [assume] at (2780,2782) {ANNAHME:\\Tertiär, Miozän};

% colours
\foreach \cc/\ya/\xa in {cHolo/6077/3299,cWeich/6198/3299,cEem/6330/3299,cSaale/6458/3299,cMio/6587/3299,cOligo/6718/3305}
  \filldraw[fill=\cc,line width=0.4pt] (\xa,\ya) rectangle (\xa+235,\ya+90);
\node (c1) [legc] at (3590,6121) {Quartär, Holozän};
\node (c2) [legc] at (3590,6243) {Quartär, Pleistozän\\Weichsel-Kaltzeit};
\node (c3) [legc] at (3590,6375) {Quartär, Pleistozän\\Eem-Warmzeit};
\node (c4) [legc] at (3590,6502) {Quartär, Pleistozän\\Saale-Kaltzeit};
\node (c5) [legc] at (3590,6629) {Tertiär, Miozän};
\node (c6) [legc] at (3596,6759) {Tertiär, Oligozän};

% Legende Grundwasserleiter
\draw[line width=0.5pt] (2203,6364) rectangle (3155,6806) (2203,6516) -- (3155,6516) (2203,6578) -- (3155,6578) (2203,6686) -- (3155,6686);
\node (lg0) [anchor=west,inner sep=0pt,font=\fs{10}{12}] at (2229,6397) {Legende Grundwasserleiter};
\node (lg1) [legg] at (2229,6453) {Hy DepSoeb xx/xx};
\node (lg2) [legg] at (2229,6490) {Hy Selm xx/xx};
\node (lg3) [legg] at (2564,6475) {Bezeichnung Stammbohrung};
\node (lg4) [legg] at (2229,6550) {403 / 401};
\node (lg5) [legg] at (2564,6549) {Bezeichnung Pegel};
\node (lg6) [legg,text=cPegel] at (2229,6601) {401};
\draw[peg] (2206,6625) -- (2492,6625);
\node (lg7) [legg,text=cPegel] at (2229,6648) {GWL 1.1 (53.88)};
\node (lg8) [legg] at (2564,6603) {Pegel};
\node (lg9) [legg] at (2564,6640) {Bezeichnung GWL + Grundwasserspiegel};
\node (lg10) [anchor=west,inner sep=0pt,font=\fs{6}{7}] at (2231,6719) {106.00 (-50.23)};
\node (lg11) [anchor=west,inner sep=0pt,font=\fs{6}{7}] at (2231,6772) {111.00 (-55.23)};
\draw[line width=0.4pt] (2401,6696) -- (2401,6785) (2431,6696) -- (2431,6785) (2381,6719) -- (2431,6719) (2381,6772) -- (2431,6772);
\draw[line width=0.3pt] (2411,6724) -- (2411,6768) (2421,6724) -- (2421,6768);
\node (lg12) [legg] at (2564,6751) {Filterstrecke};

% Legende Grundwasser
\draw[line width=1pt] (4305,5708) rectangle (4761,6179);
\node (gw0) [legg] at (4338,5749) {Legende Grundwasser};
\foreach \t [count=\i from 0] in {GW Ruhe,GW Bohrende,GW angebohrt,GW versickert,GW angestiegen}{
  \pgfmathsetmacro\yr{5802+\i*53.8}
  \draw[blue,line width=0.5pt] (4338,\yr) -- (4500,\yr);
  \node (gwa\i) [anchor=base east,inner sep=0pt,text=blue,font=\fs{7}{8}] at (4462,\yr-6) {2,45};
  \node (gwb\i) [legb,anchor=north west] at (4338,\yr+4) {08.01.2021};
  \node (gwc\i) [legb] at (4517,\yr+3) {\t};
}
\fill[blue] (4473,5792) -- (4497,5792) -- (4485,5806) -- cycle;
\fill[blue] (4479,5846) -- (4491,5846) -- (4485,5860) -- cycle;
\draw[blue,line width=0.5pt] (4473,5846) -- (4497,5846) -- (4485,5860) -- cycle;
\draw[blue,line width=0.5pt] (4473,5900) -- (4497,5900) -- (4485,5914) -- cycle;
\draw[blue,line width=0.5pt] (4473,5965) -- (4497,5965) -- (4485,5975) -- cycle;
\draw[blue,line width=0.5pt] (4473,6017) -- (4497,6017) -- (4485,6005) -- cycle;
\node (gwu1) [anchor=center,inner sep=0pt,text=blue,font=\fs{5.7}{6}] at (4426,6059) {U};
\node (gwu2) [anchor=center,inner sep=0pt,text=blue,font=\fs{5.7}{6}] at (4426,6075) {U};
\node (gws) [legb] at (4517,6062) {Stauwasser};
\draw[blue,line width=0.9pt] (4426,6096) -- (4426,6128);
\node (gww) [legb] at (4517,6107) {wasserführend};
\node (gwt) [anchor=center,inner sep=0pt,font=\fs{5}{6}] at (4430,6153) {tr. (trocken)};
\node (gwk) [legb] at (4519,6151) {kein GW angetroffen};

% Legende
\draw[line width=1pt] (5400,5451) -- (4789,5451) -- (4789,6179) -- (5400,6179);
\node (l0) [anchor=west,inner sep=0pt,font=\fs{9.85}{12}] at (4813,5486) {Legende};
\node (l1) [leg] at (4815,5530) {Hauptbodenart};
\node (l2) [leg] at (5030,5530) {Nebenbodenart};
\node (l3) [leg] at (5237,5530) {Kurzzeichen};
\draw[line width=0.8pt] (4806,5547) -- (5396,5547) (4810,5870) -- (5400,5870);
\foreach \y/\a/\b/\c/\d [count=\i] in {5580/Stein/steinig/X/x,5610/Kies/kiesig/G/g,5640/Sand/sandig/S/s,5670/Schluff/schluffig/U/u,5701/Ton/tonig/T/t,5761/Torf\slash Humus/torfig\slash humos/H/h,5791/Mudde/organisch/F/o}{
  \node (la\i) [leg] at (4815,\y) {\a};
  \node (lb\i) [leg] at (5030,\y) {\b};
  \node (lc\i) [leg] at (5238,\y) {\c};
  \node (ld\i) [anchor=center,inner sep=0pt,font=\fs{7}{8}] at (5328,\y) {\d};
}
\node (l4) [leg] at (4816,5851) {Bezeichnung};
\node (l5) [leg] at (5239,5851) {Kurzzeichen};
\node (l6) [leg] at (4817,5903) {schwach};
\node (l7) [leg] at (4984,5903) {stark};
\node (l8) [leg] at (5240,5897) {'};
\draw[line width=0.8pt] (5276,5895) -- (5298,5895);
\foreach \y/\a/\b [count=\i] in {5940/Geschiebesand/(Sg),5972/Geschiebelehm/(Lg),6005/Geschiebemergel/(Mg),6039/Beckenschluff/(Bu),6074/Beckenschluffmergel/(Bum),6111/Beckenton/(Bt),6148/Beckentonmergel/(Btm)}{
  \node (le\i) [leg] at (4813,\y) {\a};
  \node (lf\i) [leg] at (5234,\y) {\b};
}

% title block
\draw[line width=1.3pt] (5400,6212) -- (4129,6212) -- (4129,6823) -- (5400,6823) (4129,6392) -- (5400,6392) (4129,6582) -- (5400,6582);
\draw[line width=0.4pt] (5036,6392) -- (5036,6823) (5225,6392) -- (5225,6823) (5036,6456) -- (5400,6456) (5036,6517) -- (5400,6517) (4847,6582) -- (4847,6823) (4847,6642) -- (5400,6642) (4847,6700) -- (5400,6700) (4847,6764) -- (5400,6764);
\node (t1) [leg] at (4136,6232) {Projekt:};
\node (t2) [big] at (4280,6313) {Deponie Ihlenberg};
\node (t3) [leg] at (4136,6411) {Darstellung:};
\node (t4) [big] at (4283,6460) {Bodenprofile};
\node (t5) [big] at (4283,6511) {Stratigrafischer Schnitt 3};
\node (t6) [leg] at (4136,6606) {Planverfasser:};
\foreach \y/\a/\b [count=\i] in {6423/Projekt-Nr.:/D 29622\slash 11b,6487/Anhang:/2,6550/Blatt:/3,6614/Datum/Name,6671/06.12.2022/Wolle,6733/06.12.2022/Weist,6795/06.12.2022/Weist}{
  \node (tb\i) [leg] at (5051,\y) {\a};
  \node (tc\i) [leg] at (5239,\y) {\b};
}
\node (t7) [leg] at (4872,6671) {gezeichnet:};
\node (t8) [leg] at (4871,6733) {bearbeitet:};
\node (t9) [leg] at (4872,6795) {geprüft:};
\fill[cLogo] (4150,6728) .. controls (4185,6745) and (4200,6745) .. (4232,6743) .. controls (4300,6740) and (4310,6710) .. (4362,6685) -- (4362,6783) -- (4150,6783) -- cycle;
\fill[cLogoG] (4150,6790) rectangle (4363,6795);
\draw[cLogoG,line width=0.9pt,rounded corners=5pt] (4150,6636) rectangle (4363,6806);
\fill[cLogoG] (4165,6651) rectangle (4176,6702) (4165,6695) rectangle (4207,6702) (4223,6686) rectangle (4229,6710) (4214,6696) rectangle (4238,6700) (4275,6670) rectangle (4284,6727);
\draw[cLogoG,line width=1.5pt] (4222,6723) -- (4252,6708) -- (4282,6723);
\node (f1) [anchor=west,inner sep=0pt,text=cLogoG,font=\fs{7}{8}] at (4405,6659) {Ingenieurbüro Dr. Lehners + Wittorf};
\foreach \y/\a/\b [count=\i] in {6691/An der Dänischburg 10/Hanskampring 21,6714/23569 Lübeck/22885 Barsbüttel,6737/{Fon: 04 51 \slash{} 5 92 98 00}/{Fon: 0 40 \slash{} 66 97 74 31},6759/{Fax: 04 51 \slash{} 5 92 98 29}/{Fax: 0 40 \slash{} 66 97 74 58},6789/www.geo-technik.com/info@geo-technik.com}{
  \node (fa\i) [firm] at (4405,\y) {\a};
  \node (fb\i) [firm] at (4614,\y) {\b};
}

\draw[line width=0.8pt] (0,6856) -- (5400,6856);
\node (rot) [anchor=base west,inner sep=0pt,text=red,font=\bfseries\fs{10}{12}] at (5304,6884) {02 - 0};
\end{tikzpicture}
\end{document}
